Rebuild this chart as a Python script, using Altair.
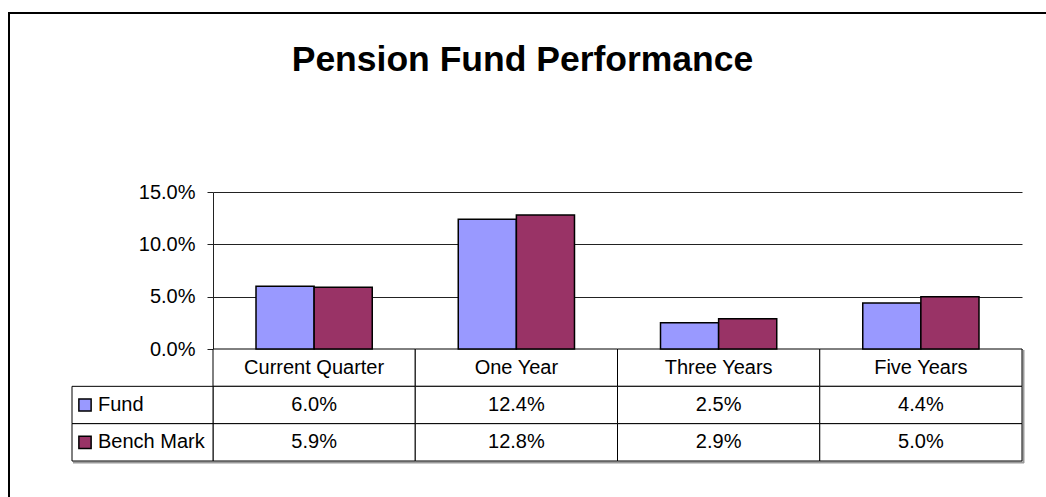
import altair as alt
import pandas as pd

# ---- data ----
categories = ["Current Quarter", "One Year", "Three Years", "Five Years"]
series = ["Fund", "Bench Mark"]
fund = [0.060, 0.124, 0.025, 0.044]
bench = [0.059, 0.128, 0.029, 0.050]
colors = ["#9999FF", "#993366"]
y_ticks = [0.0, 0.05, 0.10, 0.15]
title_text = "Pension Fund Performance"
rows = ["Category", "Fund", "Bench Mark"]

FONT = "Liberation Sans"

bars_df = pd.DataFrame(
    [{"cat": c, "series": s, "value": v}
     for s, vals in zip(series, [fund, bench])
     for c, v in zip(categories, vals)]
)

cell_records = [{"cat": c, "row": "Category", "label": c} for c in categories]
for s, vals in zip(series, [fund, bench]):
    for c, v in zip(categories, vals):
        cell_records.append({"cat": c, "row": s, "label": f"{v * 100:.1f}%"})
cells_df = pd.DataFrame(cell_records)
legend_df = pd.DataFrame({"series": series})

W, H = 809, 157

xscale = alt.Scale(domain=categories, paddingInner=0, paddingOuter=0)
rowscale = alt.Scale(domain=rows, range=[H, 269], paddingInner=0, paddingOuter=0)
colorscale = alt.Scale(domain=series, range=colors)

one = pd.DataFrame({"k": [0]})

border = alt.Chart(one).mark_rect(fillOpacity=0, stroke="black", strokeWidth=2).encode(
    x=alt.value(-204), x2=alt.value(W + 60), y=alt.value(-179), y2=alt.value(H + 200)
)

shadow_b = alt.Chart(one).mark_rule(color="#9a9a9a", strokeWidth=2).encode(
    x=alt.value(-140), x2=alt.value(W + 2), y=alt.value(270.5)
)
shadow_r = alt.Chart(one).mark_rule(color="#9a9a9a", strokeWidth=2).encode(
    x=alt.value(W + 1.5), y=alt.value(H + 1), y2=alt.value(271)
)

bars = alt.Chart(bars_df).mark_bar(stroke="black", strokeWidth=1.5).encode(
    x=alt.X("cat:N", scale=xscale, sort=categories, axis=None),
    xOffset=alt.XOffset("series:N", sort=series,
                        scale=alt.Scale(domain=series, paddingInner=0, paddingOuter=0.74)),
    y=alt.Y("value:Q",
            scale=alt.Scale(domain=[0, 0.15], nice=False, zero=True),
            axis=alt.Axis(values=y_ticks, format=".1%", title=None, grid=True,
                          gridColor="#222", gridWidth=1, domainColor="#222",
                          tickColor="#222", tickSize=6, labelPadding=12,
                          labelFontSize=20, labelFont=FONT, labelColor="black")),
    color=alt.Color("series:N", scale=colorscale, legend=None),
)

cells_rect = alt.Chart(cells_df).mark_rect(fill="white", stroke="black", strokeWidth=1).encode(
    x=alt.X("cat:N", scale=xscale, sort=categories, axis=None),
    y=alt.Y("row:N", scale=rowscale, sort=rows, axis=None),
)

cells_text = alt.Chart(cells_df).mark_text(
    font=FONT, fontSize=20, color="black", align="center", baseline="middle"
).encode(
    x=alt.X("cat:N", scale=xscale, sort=categories, axis=None),
    y=alt.Y("row:N", scale=rowscale, sort=rows, axis=None),
    text="label:N",
)

legend_rect = alt.Chart(legend_df).mark_rect(fill="white", stroke="black", strokeWidth=1).encode(
    x=alt.value(-141), x2=alt.value(0),
    y=alt.Y("series:N", scale=rowscale, sort=rows, axis=None),
)

legend_swatch = alt.Chart(legend_df).mark_square(
    size=150, filled=True, opacity=1, stroke="black", strokeWidth=1.5
).encode(
    x=alt.value(-128),
    y=alt.Y("series:N", scale=rowscale, sort=rows, axis=None),
    color=alt.Color("series:N", scale=colorscale, legend=None),
)

legend_text = alt.Chart(legend_df).mark_text(
    font=FONT, fontSize=20, color="black", align="left", baseline="middle"
).encode(
    x=alt.value(-115),
    y=alt.Y("series:N", scale=rowscale, sort=rows, axis=None),
    text="series:N",
)

title = alt.Chart(pd.DataFrame({"t": [title_text]})).mark_text(
    font=FONT, fontSize=35.5, fontWeight="bold", color="black",
    align="center", baseline="alphabetic"
).encode(x=alt.value(309.5), y=alt.value(-121), text="t:N")

chart = alt.layer(
    border, shadow_b, shadow_r, cells_rect, legend_rect, bars,
    cells_text, legend_swatch, legend_text, title
).resolve_scale(y="independent").properties(
    width=W, height=H,
    autosize=alt.AutoSizeParams(type="none"),
    padding={"left": 213, "top": 192, "right": 24, "bottom": 148},
    background="white",
).configure_view(strokeWidth=0)

chart.save("out.html", embed_options={"renderer": "svg", "actions": False})
